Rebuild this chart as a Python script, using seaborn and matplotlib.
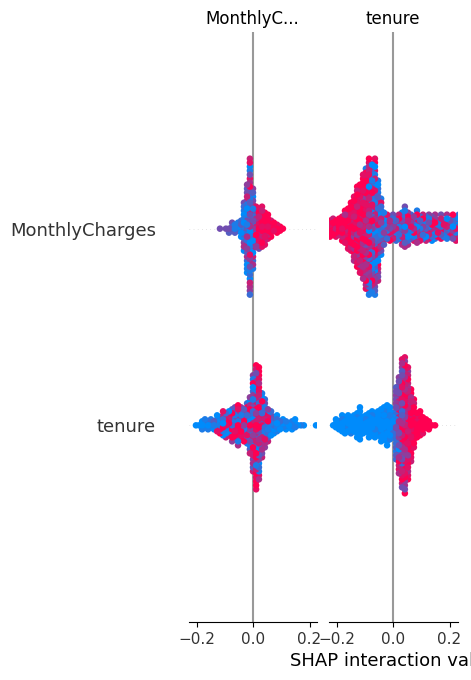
import math
import matplotlib
matplotlib.use("Agg")
import matplotlib.pyplot as plt
from matplotlib.colors import LinearSegmentedColormap
import pandas as pd
import seaborn as sns

features = ["MonthlyCharges", "tenure"]
panel_titles = ["MonthlyC...", "tenure"]
x_label = "SHAP interaction value"
x_ticks = [-0.2, 0.0, 0.2]

# Each swarm: SHAP value of a column, and one digit per point in that column
# (feature value 0 = low ... 9 = high).
mc_mc_x = [-0.117, -0.096, -0.085, -0.074, -0.064, -0.053, -0.042, -0.032, -0.021, -0.011,
           0.0, 0.011, 0.021, 0.032, 0.042, 0.053, 0.064, 0.074, 0.085, 0.096, 0.106]
mc_mc_c = ["4", "4", "43", "314", "131", "021", "10302", "1402130516204",
           "30164207150316827041305", "60817240916038152704916280471605827",
           "501740263810574206315", "78596849758", "97869875947", "89979689788",
           "997897989", "8997989", "99897", "989", "998", "99", "9"]

mc_te_x = [-0.223, -0.212, -0.202, -0.191, -0.180, -0.170, -0.159, -0.149, -0.138, -0.127,
           -0.117, -0.106, -0.096, -0.085, -0.074, -0.064, -0.053, -0.042, -0.032, -0.021,
           -0.011, 0.0, 0.011, 0.021, 0.032, 0.042, 0.053, 0.064, 0.074, 0.085, 0.096,
           0.106, 0.117, 0.127, 0.138, 0.149, 0.159, 0.170, 0.180, 0.191, 0.202, 0.212,
           0.223, 0.233]
mc_te_c = ["99899", "98997", "79989", "99979", "8997998", "979899689", "99789979689",
           "9979698997989", "97859979869987968", "997599768979859798799",
           "98679958979689978597989", "789579968597895997869798968",
           "9758698479968597869795849976981", "60978159768049726958057694817260819",
           "508195370962841750917436190725810",
           "30916273805917264083102975168403918", "10825319072461803917250417",
           "205173091624801", "051408231", "5186028", "4871693",
           "5819274", "7195326", "1482907", "391748260", "05912873164", "318072965",
           "8150942", "6921085", "058723961", "1907382", "5802917", "3860172", "0947185",
           "6192804", "7190526", "48190", "2613784", "90816", "7392016", "18694", "0527149",
           "8109382", "3179062"]

te_mc_x = [-0.202, -0.191, -0.180, -0.170, -0.159, -0.149, -0.138, -0.127, -0.117, -0.106,
           -0.096, -0.085, -0.074, -0.064, -0.053, -0.042, -0.032, -0.021, -0.011, 0.0,
           0.011, 0.021, 0.032, 0.042, 0.053, 0.064, 0.074, 0.085, 0.096, 0.106, 0.117,
           0.127, 0.138, 0.149, 0.159, 0.170, 0.180, 0.223]
te_mc_c = ["0", "0", "010", "101", "012", "021", "103", "01280", "18091", "0921708",
           "8190972", "9971850", "291879953", "798819294", "98197291869", "790918295",
           "519789293", "70192850912", "950128749163075", "7906152840391857240693175",
           "98769057918269790681975928497998", "89749016972059738590628198969", "80159720381694071",
           "0271903816452", "019283075", "1031402", "20103", "01210", "102", "010", "101",
           "0", "101", "010", "0", "1", "0", "0"]

te_te_x = [-0.212, -0.202, -0.191, -0.180, -0.170, -0.159, -0.149, -0.138, -0.127, -0.117,
           -0.106, -0.096, -0.085, -0.074, -0.064, -0.053, -0.042, -0.032, -0.021, -0.011,
           0.0, 0.011, 0.021, 0.032, 0.042, 0.053, 0.064, 0.074, 0.085, 0.096, 0.106,
           0.117, 0.127, 0.138, 0.149]
te_te_c = ["0", "000", "000", "00100", "00000", "01000", "00010", "00000", "0000100",
           "000000000", "00000", "00100", "0000000", "0000100", "0100000", "0001000",
           "000010000", "000100100", "00001000100", "001010010", "1302021",
           "3415243142534153423", "5364758394607586493758465",
           "694837295746859374829657483957648", "79485968579685947869795869758694598",
           "85976894785968957869789678598",
           "9897689978987968979", "9899789999789", "9989799", "9998999", "99989", "999",
           "999", "9", "9"]

swarms = {
    (0, 1): (mc_mc_x, mc_mc_c),
    (1, 1): (mc_te_x, mc_te_c),
    (0, 0): (te_mc_x, te_mc_c),
    (1, 0): (te_te_x, te_te_c),
}

LAYER = 4 / 196.67


def points(xs, cs, row):
    rows = []
    for j, (x, digits) in enumerate(zip(xs, cs)):
        shift = 0.5 * LAYER if j % 2 and len(digits) > 1 else 0.0
        for k, d in enumerate(digits):
            layer = math.ceil(k / 2) * (-1) ** (k % 2)
            rows.append({"shap": x, "y": row + layer * LAYER + shift, "value": int(d)})
    df = pd.DataFrame(rows)
    # overlap order is mixed across columns, as in a real swarm
    order = [(n * 7919) % 1009 for n in range(len(df))]
    return df.assign(order=order).sort_values("order")


red_blue = LinearSegmentedColormap.from_list("red_blue", ["#008BFB", "#FF0051"])

sns.set_theme(style="white")
plt.rcParams["font.family"] = "DejaVu Sans"
W, H = 471, 680
fig = plt.figure(figsize=(W / 100, H / 100), dpi=100, facecolor="white")
boxes = [(189, 128), (329, 129)]
centres = [253, 393]

for i, (left, width) in enumerate(boxes):
    ax = fig.add_axes([left / W, (H - 622) / H, width / W, 590 / H])
    ax.set_facecolor("white")
    for row in (1, 0):
        ax.axhline(row, color="#cccccc", lw=0.5, dashes=(1, 5), zorder=-1)
        df = points(*swarms[(i, row)], row)
        sns.scatterplot(data=df, x="shap", y="y", hue="value", palette=red_blue,
                        hue_norm=(0, 9), s=22, linewidth=0, alpha=1, legend=False,
                        ax=ax, zorder=3)
    ax.axvline(0, color="#999999", lw=1.5, zorder=1)
    lo = (left - centres[i]) / 282.5
    ax.set_xlim(lo, lo + width / 282.5)
    ax.set_ylim(-1, 2)
    ax.set_xlabel("")
    ax.set_ylabel("")
    ax.set_title(panel_titles[i], fontsize=12, color="black", pad=6,
                 x=0.5 - 1 / width)
    for s in ("top", "left", "right"):
        ax.spines[s].set_visible(False)
    ax.spines["bottom"].set_visible(True)
    ax.spines["bottom"].set_color("black")
    ax.spines["bottom"].set_linewidth(0.8)
    ax.set_xticks(x_ticks)
    ax.tick_params(axis="x", bottom=True, length=3.5, width=0.8, color="black",
                   labelsize=11, labelcolor="#333333", pad=3.5)
    if i == 0:
        ax.set_yticks([1, 0])
        ax.set_yticklabels(features)
        ax.tick_params(axis="y", length=0, labelsize=13, labelcolor="#333333", pad=23.7)
    else:
        ax.set_yticks([])

fig.text(290 / W, (H - 666) / H, x_label, fontsize=13, color="black", ha="left", va="baseline")
fig.savefig("out.png", dpi=100, facecolor="white")
